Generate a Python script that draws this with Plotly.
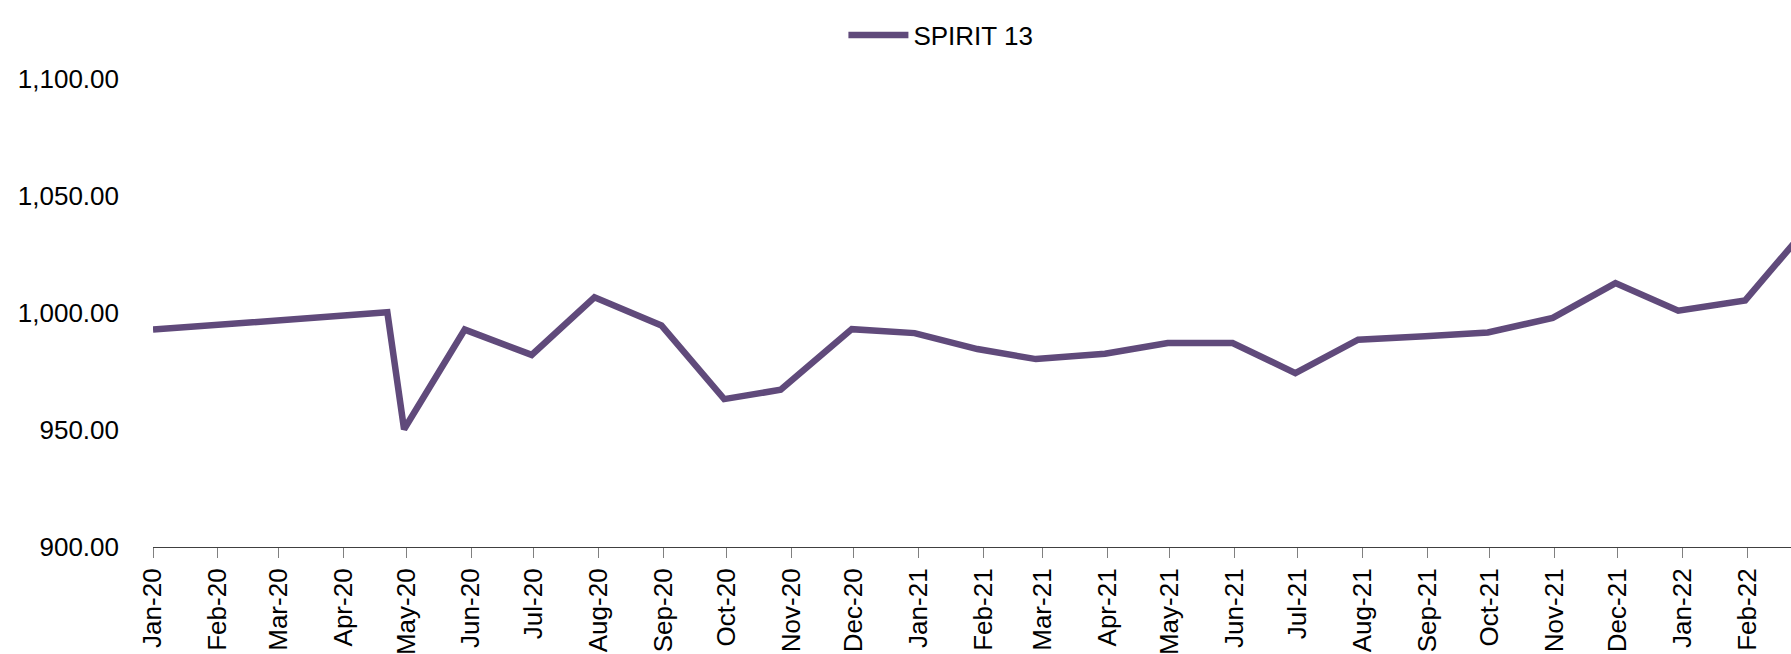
import plotly.graph_objects as go

dates = [
    "2020-01-01", "2020-04-22", "2020-04-30", "2020-05-29", "2020-06-30",
    "2020-07-30", "2020-08-31", "2020-09-30", "2020-10-27", "2020-11-30",
    "2020-12-30", "2021-01-29", "2021-02-26", "2021-03-31", "2021-04-30",
    "2021-05-31", "2021-06-30", "2021-07-30", "2021-08-31", "2021-09-30",
    "2021-10-31", "2021-11-30", "2021-12-30", "2022-01-31", "2022-02-28",
]
spirit13 = [
    992.9, 1000.3, 950.3, 992.9, 982.1,
    1006.7, 994.7, 963.2, 967.2, 993.1,
    991.4, 984.6, 980.3, 982.6, 987.2,
    987.2, 974.3, 988.6, 990.1, 991.7,
    997.9, 1012.8, 1001.0, 1005.4, 1034.7,
]
series_name = "SPIRIT 13"
y_ticks = [900, 950, 1000, 1050, 1100]
x_range = ["2020-01-01", "2022-02-21 21:30"]

FONT = "Liberation Sans, Arial, sans-serif"
LINE_COLOR = "#604A7B"

fig = go.Figure()
fig.add_trace(go.Scatter(
    x=dates, y=spirit13, mode="lines", name=series_name,
    line=dict(color=LINE_COLOR, width=6.5),
))

fig.update_layout(
    width=1791, height=654,
    margin=dict(l=153, r=0, t=79, b=107, pad=0),
    paper_bgcolor="white", plot_bgcolor="white",
    font=dict(family=FONT, size=26, color="#000000"),
    showlegend=True,
    legend=dict(
        orientation="h", x=0.4215, xanchor="left", y=1.094, yanchor="middle",
        font=dict(family=FONT, size=26, color="#000000"),
        itemwidth=60, bgcolor="rgba(0,0,0,0)",
    ),
    xaxis=dict(
        type="date", range=x_range, tickmode="linear", tick0="2020-01-01",
        dtick="M1", tickformat="%b-%y", tickangle=-90,
        ticks="outside", ticklen=10, tickcolor="#808080", tickwidth=1,
        showline=True, linecolor="#404040", linewidth=1,
        showgrid=False, zeroline=False, automargin=False,
        ticklabelstandoff=0,
        tickfont=dict(family=FONT, size=26, color="#000000"),
    ),
    yaxis=dict(
        range=[900, 1100], tickmode="array", tickvals=y_ticks,
        ticktext=[f"{v:,.2f}" for v in y_ticks],
        ticks="", showline=False, showgrid=False, zeroline=False,
        automargin=False, ticklabelstandoff=33,
        tickfont=dict(family=FONT, size=26, color="#000000"),
    ),
)

fig.write_html(
    "out.html",
    config={"displayModeBar": False},
    post_script="document.body.style.margin='0';document.body.style.overflow='hidden';",
)
